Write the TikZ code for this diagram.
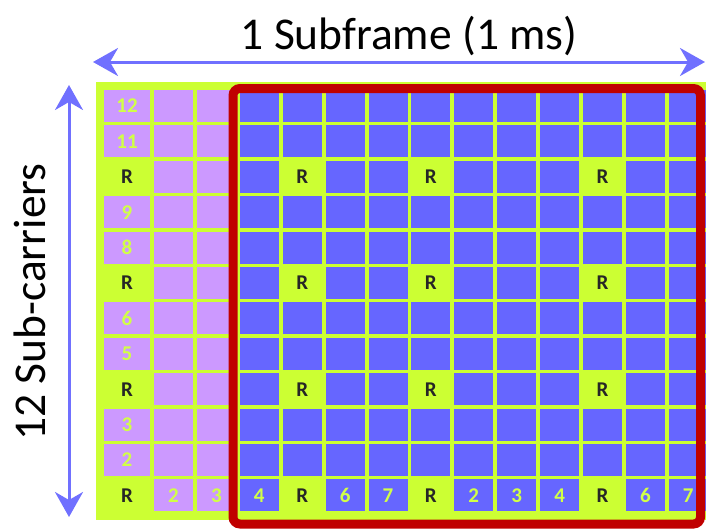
\documentclass[tikz,border=0pt]{standalone}
\usepackage{fontspec}
\setmainfont{Carlito}
\usepackage{tikz}
\usetikzlibrary{arrows.meta, positioning, calc}
\definecolor{gridgreen}{HTML}{CCFF33}
\definecolor{rbpurple}{HTML}{CC99FF}
\definecolor{rbblue}{HTML}{6666FF}
\definecolor{frameRed}{HTML}{C00000}
\definecolor{arrowblue}{HTML}{7070FF}
\tikzstyle{cellN} = [rectangle, minimum height=32pt, inner sep=0pt, text=gridgreen!90!white, font=\fontsize{21}{21}\selectfont\bfseries]
\tikzstyle{cellR} = [rectangle, minimum height=32pt, inner sep=0pt, text=black!85, font=\fontsize{21}{21}\selectfont\bfseries]
\tikzstyle{dimarrow} = [arrowblue, line width=3pt, {Stealth[length=25pt, width=28pt, inset=8pt]}-{Stealth[length=25pt, width=28pt, inset=8pt]}]
\tikzstyle{bigtext} = [inner sep=0pt, font=\fontsize{45.5}{50}\selectfont]

\begin{document}
\begin{tikzpicture}[x=1pt, y=-1pt]
		\useasboundingbox (0,0) rectangle (706,530);
		\fill[gridgreen] (96,82) rectangle (706,520);
		
		\foreach \r in {1,...,12}{
			\foreach \c in {1,...,14}{
				\pgfmathsetmacro{\cx}{\c==1 ? 127 : 173.5+(\c-2)*42.9}
				\pgfmathsetmacro{\cw}{\c==1 ? 46 : 39}
				\pgfmathsetmacro{\cy}{106+(\r-1)*35.4}
				\pgfmathtruncatemacro{\isR}{(mod(\r,3)==0) && (\c==1 || \c==5 || \c==8 || \c==12)}
				\pgfmathtruncatemacro{\lab}{\c==1 ? 13-\r : mod(\c-1,7)+1}
				\ifnum\isR=1
					\node (cell-\r-\c) [cellR, minimum width=\cw pt] at (\cx,\cy) {R};
				\else
					\ifnum\c<4 \def\cellfill{rbpurple}\else\def\cellfill{rbblue}\fi
					\ifnum\c=1 \def\celltext{\lab}\else\ifnum\r=12 \def\celltext{\lab}\else\def\celltext{}\fi\fi
					\node (cell-\r-\c) [cellN, fill=\cellfill, minimum width=\cw pt] at (\cx,\cy) {\celltext};
				\fi
			}
		}
		
		\node (frame) [draw=frameRed, line width=9pt, rounded corners=7pt, minimum width=467.5pt, minimum height=435.5pt, inner sep=0pt] at (466.75,306.25) {};
		
		\coordinate (left) at (93,62);
		\coordinate (right) at (705,62);
		\coordinate (top) at (69,85);
		\coordinate (bottom) at (69,517);
		\draw[dimarrow] (left) -- (right);
		\draw[dimarrow] (top) -- (bottom);
		
		\node (title) [bigtext, anchor=base] at (409,49) {1 Subframe (1 ms)};
		\node (side) [bigtext, anchor=base, rotate=90] at (45,302) {12 Sub-carriers};
	\end{tikzpicture}
\end{document}
